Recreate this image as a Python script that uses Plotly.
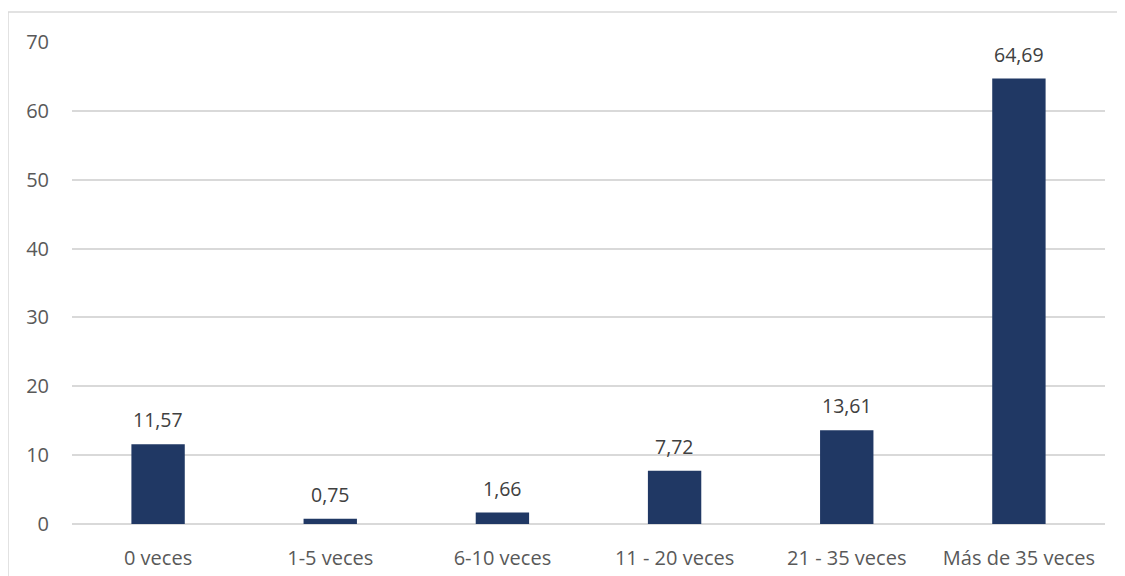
import plotly.graph_objects as go

categories = ["0 veces", "1-5 veces", "6-10 veces", "11 - 20 veces", "21 - 35 veces", "Más de 35 veces"]
values = [11.57, 0.75, 1.66, 7.72, 13.61, 64.69]
labels = ["11,57", "0,75", "1,66", "7,72", "13,61", "64,69"]
tick_vals = [0, 10, 20, 30, 40, 50, 60, 70]

FONT = "Open Sans, Liberation Sans"

fig = go.Figure(go.Bar(
    x=categories, y=values,
    marker=dict(color="#203864", line=dict(width=0)),
    width=0.31,
))

for c, v, t in zip(categories, values, labels):
    fig.add_annotation(x=c, y=v, text=t, showarrow=False, yanchor="bottom", yshift=9,
                       font=dict(family=FONT, size=19.5, color="#404040"))

fig.update_layout(
    width=1117, height=568,
    margin=dict(l=64, r=20, t=34, b=52),
    paper_bgcolor="white", plot_bgcolor="white",
    showlegend=False,
    font=dict(family=FONT, size=20, color="#595959"),
    xaxis=dict(showgrid=False, showline=False, ticks="", ticklabelstandoff=20, automargin=False,
               tickfont=dict(size=20, color="#595959")),
    yaxis=dict(range=[0, 70], tickvals=tick_vals, showgrid=True, gridcolor="#d9d9d9", gridwidth=1.5,
               zeroline=True, zerolinecolor="#d9d9d9", zerolinewidth=1.5, showline=False, automargin=False,
               ticks="", ticklabelstandoff=22, tickfont=dict(size=20, color="#595959")),
    shapes=[dict(type="rect", xref="paper", yref="paper",
                 x0=-64/1033, x1=1.2, y0=-0.3, y1=1 + 30/482,
                 line=dict(color="#d9d9d9", width=1.5), fillcolor="rgba(0,0,0,0)", layer="below")],
)

fig.write_html("out.html")
